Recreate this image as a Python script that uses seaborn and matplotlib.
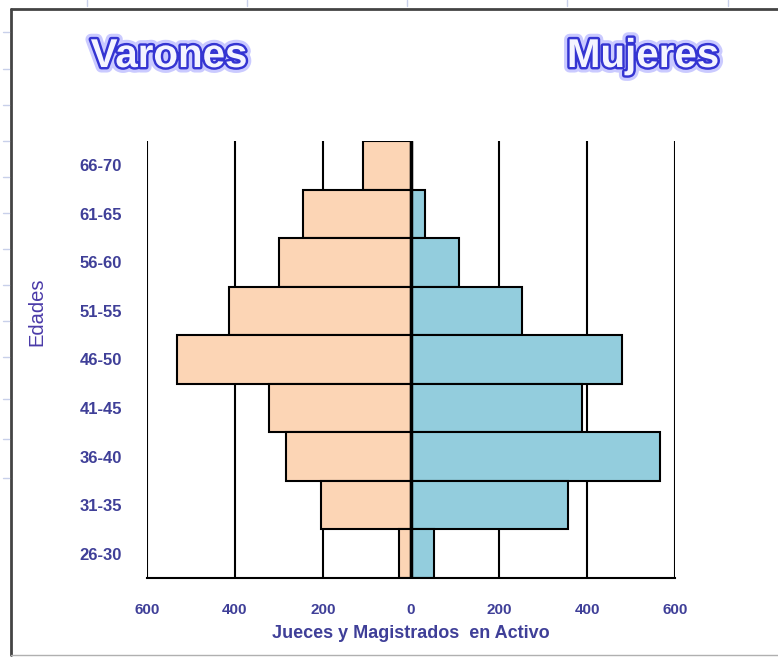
import numpy as np
import pandas as pd
import matplotlib
matplotlib.use("Agg")
import matplotlib.pyplot as plt
import matplotlib.patheffects as pe
from matplotlib.lines import Line2D
from matplotlib.ticker import FuncFormatter
import seaborn as sns

# data (top row first)
edades = ["66-70", "61-65", "56-60", "51-55", "46-50", "41-45", "36-40", "31-35", "26-30"]
varones = [110, 245, 300, 413, 531, 322, 285, 205, 28]
mujeres = [3, 31, 108, 253, 479, 389, 566, 357, 53]
xticks = [-600, -400, -200, 0, 200, 400, 600]

df = pd.DataFrame({"Edades": edades,
                   "Varones": -np.array(varones),
                   "Mujeres": np.array(mujeres)})

sns.set_style("white")
plt.rcParams['font.family'] = ['Liberation Sans', 'DejaVu Sans']

txt_col = '#3f3f98'
W, H = 778, 657
fig = plt.figure(figsize=(W / 100, H / 100), dpi=100)
ax = fig.add_axes([147 / W, 1 - 578 / H, (675 - 147) / W, (578 - 141) / H])

# pyramid bars
sns.barplot(data=df, x="Varones", y="Edades", orient="h", color='#FCD5B5',
            saturation=1, width=1, edgecolor='black', linewidth=1.5, ax=ax)
sns.barplot(data=df, x="Mujeres", y="Edades", orient="h", color='#93CDDD',
            saturation=1, width=1, edgecolor='black', linewidth=1.5, ax=ax)

ax.set_xlim(-600, 600)
ax.set_ylim(len(edades) - 0.5, -0.5)
ax.set_xticks(xticks)
ax.xaxis.set_major_formatter(FuncFormatter(lambda v, p: f"{abs(int(v))}"))
ax.set_axisbelow(True)
ax.grid(axis='x', color='black', linewidth=1.5)
ax.grid(axis='y', visible=False)
ax.axvline(0, color='black', linewidth=2.5, zorder=3)

for s in ['top', 'right', 'left']:
    ax.spines[s].set_visible(False)
ax.spines['bottom'].set_color('black')
ax.spines['bottom'].set_linewidth(1.5)

ax.tick_params(axis='x', direction='out', length=5, width=1.5, color='black', pad=13,
               labelsize=11, labelcolor=txt_col)
ax.tick_params(axis='y', length=0, pad=18, labelsize=12, labelcolor=txt_col)
for lab in ax.get_xticklabels():
    lab.set_fontweight('bold')
for lab in ax.get_yticklabels():
    lab.set_fontweight('bold')

ax.set_xlabel("Jueces y Magistrados  en Activo", fontsize=13, fontweight='bold',
              color=txt_col, labelpad=6)
ax.set_ylabel("")
fig.text(37 / W, 1 - 312 / H, "Edades", rotation=90, ha='center', va='center',
         fontsize=14.5, color='#4a3aa8')

# outlined titles
effects = [pe.Stroke(linewidth=8, foreground='#a8a8ff', alpha=0.6),
           pe.Stroke(linewidth=3.5, foreground='#3434d2'),
           pe.Normal()]
for label, xc in [("Varones", 169), ("Mujeres", 643)]:
    fig.text(xc / W, 1 - 67 / H, label, ha='center', va='baseline', fontsize=29,
             fontweight='bold', color='#f4f4ff', path_effects=effects)

# chart frame and faint sheet ruler marks
fig.add_artist(Line2D([10.5 / W, 10.5 / W], [1 - 8.5 / H, 1 - 655 / H],
                      transform=fig.transFigure, color='#444444', lw=2))
fig.add_artist(Line2D([10.5 / W, 1], [1 - 8.5 / H, 1 - 8.5 / H],
                      transform=fig.transFigure, color='#444444', lw=2))
fig.add_artist(Line2D([10.5 / W, 1], [1 - 655 / H, 1 - 655 / H],
                      transform=fig.transFigure, color='#b0b0b0', lw=1))
for xr in [87, 247, 407, 567, 728]:
    fig.add_artist(Line2D([xr / W, xr / W], [1, 1 - 6 / H],
                          transform=fig.transFigure, color='#c8d0ea', lw=1))
for yr in [32, 69, 105, 141, 177, 213, 249, 285, 321, 357, 399, 439, 478]:
    fig.add_artist(Line2D([3 / W, 9 / W], [1 - yr / H, 1 - yr / H],
                          transform=fig.transFigure, color='#c8d0ea', lw=1))

fig.savefig("out.png", dpi=100)
